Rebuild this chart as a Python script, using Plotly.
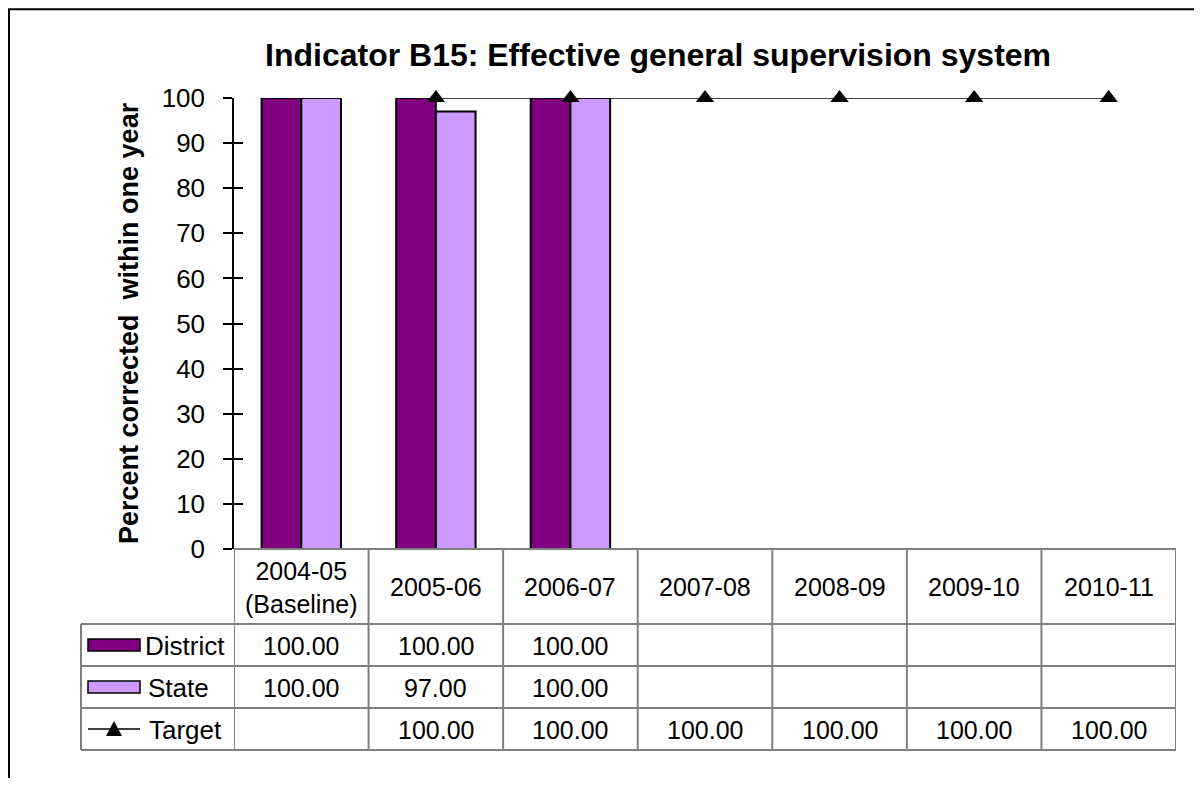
import plotly.graph_objects as go

categories = ["2004-05<br>(Baseline)", "2005-06", "2006-07", "2007-08", "2008-09", "2009-10", "2010-11"]
district = [100, 100, 100, None, None, None, None]
state = [100, 97, 100, None, None, None, None]
target = [None, 100, 100, 100, 100, 100, 100]
series_names = ["District", "State", "Target"]
y_ticks = [0, 10, 20, 30, 40, 50, 60, 70, 80, 90, 100]

# page offset of the plotly div (body margin)
OFF = 8
W, H = 1202 - 2 * OFF, 786 - 2 * OFF
L, T = 234 - OFF, 98 - OFF
PW, PH = 942, 451
R = W - L - PW
B = H - T - PH

def xp(px):
    return (px - OFF - L) / PW

def yp(py):
    return (T + PH - (py - OFF)) / PH

FONT = "Arial, Liberation Sans, sans-serif"
GRID = "#808080"
TS = 25  # table font size
xs = list(range(len(categories)))

fig = go.Figure()
fig.add_trace(go.Bar(x=xs, y=district, name=series_names[0], marker=dict(color="#800080", line=dict(color="black", width=2))))
fig.add_trace(go.Bar(x=xs, y=state, name=series_names[1], marker=dict(color="#CC99FF", line=dict(color="black", width=2))))
fig.add_trace(go.Scatter(x=xs, y=target, name=series_names[2], mode="lines+markers", cliponaxis=False,
                         line=dict(color="black", width=1.5),
                         marker=dict(symbol="triangle-up", size=16, color="black")))
fig.add_trace(go.Scatter(x=[None], y=[None], yaxis="y2", showlegend=False))

shapes = []
annotations = []

# outer chart border
shapes.append(dict(type="rect", xref="paper", yref="paper", x0=xp(9), x1=xp(1240), y0=yp(830), y1=yp(9.2),
                   line=dict(color="black", width=2), fillcolor="rgba(0,0,0,0)", layer="above"))

row_tops = [549, 624, 666, 708, 750]
col_left_px = 81
shapes.append(dict(type="line", xref="paper", yref="paper", x0=xp(234), x1=xp(1176), y0=yp(549), y1=yp(549), line=dict(color=GRID, width=2)))
for py in row_tops[1:]:
    shapes.append(dict(type="line", xref="paper", yref="paper", x0=xp(col_left_px), x1=xp(1176), y0=yp(py), y1=yp(py), line=dict(color=GRID, width=2)))
for i in range(len(categories) + 1):
    xv = i - 0.5
    shapes.append(dict(type="line", xref="x", yref="paper", x0=xv, x1=xv, y0=yp(549), y1=yp(750), line=dict(color=GRID, width=2)))
shapes.append(dict(type="line", xref="paper", yref="paper", x0=xp(col_left_px), x1=xp(col_left_px), y0=yp(624), y1=yp(750), line=dict(color=GRID, width=2)))

for i, c in enumerate(categories):
    annotations.append(dict(x=i, y=yp(587), xref="x", yref="paper", text=c, showarrow=False,
                            font=dict(family=FONT, size=TS, color="black"), xanchor="center", yanchor="middle"))

row_centers = [646, 688, 730]
for vals, rc in zip([district, state, target], row_centers):
    for i, v in enumerate(vals):
        if v is not None:
            annotations.append(dict(x=i, y=yp(rc), xref="x", yref="paper", text=f"{v:.2f}", showarrow=False,
                                    font=dict(family=FONT, size=TS, color="black"), xanchor="center", yanchor="middle"))

# legend keys
shapes.append(dict(type="rect", xref="paper", yref="paper", x0=xp(88), x1=xp(140), y0=yp(651), y1=yp(639),
                   fillcolor="#800080", line=dict(color="black", width=1.5)))
shapes.append(dict(type="rect", xref="paper", yref="paper", x0=xp(88), x1=xp(140), y0=yp(693), y1=yp(681),
                   fillcolor="#CC99FF", line=dict(color="black", width=1.5)))
shapes.append(dict(type="line", xref="paper", yref="paper", x0=xp(88), x1=xp(140), y0=yp(729), y1=yp(729),
                   line=dict(color="black", width=1.5)))
tx, ty = 114, 729
shapes.append(dict(type="path", xref="paper", yref="paper",
                   path=f"M {xp(tx-8)} {yp(ty+7)} L {xp(tx+8)} {yp(ty+7)} L {xp(tx)} {yp(ty-8)} Z",
                   fillcolor="black", line=dict(color="black", width=0)))
for name, rc, lx in zip(series_names, row_centers, [143, 146, 147]):
    annotations.append(dict(x=xp(lx), y=yp(rc), xref="paper", yref="paper", text=name, showarrow=False,
                            font=dict(family=FONT, size=26, color="black"), xanchor="left", yanchor="middle"))

annotations.append(dict(x=xp(129), y=yp(323), xref="paper", yref="paper", text="<b>Percent corrected  within one year</b>",
                        showarrow=False, textangle=-90, font=dict(family=FONT, size=27, color="black"),
                        xanchor="center", yanchor="middle"))

annotations.append(dict(x=xp(658), y=yp(55), xref="paper", yref="paper",
                        text="<b>Indicator B15: Effective general supervision system</b>",
                        showarrow=False, font=dict(family=FONT, size=32, color="black"),
                        xanchor="center", yanchor="middle"))

fig.update_layout(
    width=W, height=H,
    margin=dict(l=L, r=R, t=T, b=B),
    paper_bgcolor="white", plot_bgcolor="white",
    barmode="group", bargap=0.41, bargroupgap=0,
    showlegend=False,
    xaxis=dict(range=[-0.5, len(categories) - 0.5], showticklabels=False, ticks="", showgrid=False, zeroline=False,
               showline=False, fixedrange=True),
    yaxis=dict(range=[0, 100], tickvals=y_ticks, ticks="outside", ticklen=9, tickwidth=1.5, tickcolor="black",
               showline=True, linecolor="black", linewidth=1.5, showgrid=False, zeroline=False,
               tickfont=dict(family=FONT, size=26, color="black"), ticklabelstandoff=13),
    yaxis2=dict(range=[0, 100], tickvals=y_ticks, overlaying="y", side="left", ticks="inside", ticklen=9, tickwidth=1.5,
                tickcolor="black", showticklabels=False, showline=False, showgrid=False, zeroline=False),
    shapes=shapes,
    annotations=annotations,
)

fig.write_html("out.html")
